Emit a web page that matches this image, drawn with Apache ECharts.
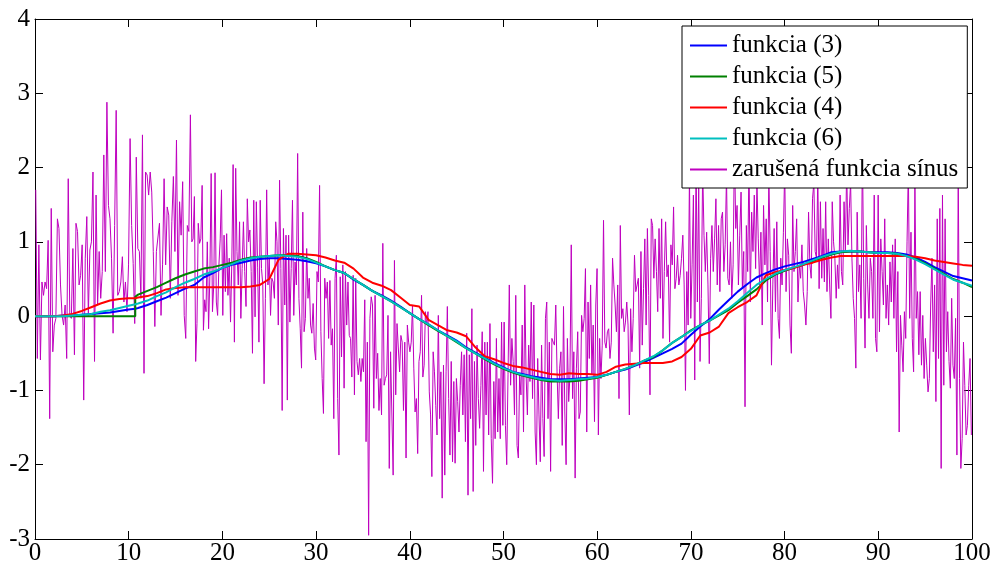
<!DOCTYPE html>
<html>
<head>
<meta charset="utf-8">
<script src="https://cdn.jsdelivr.net/npm/echarts@6/dist/echarts.min.js"></script>
<style>
html,body{margin:0;padding:0;background:#fff;}
#chart{width:994px;height:568px;}
</style>
</head>
<body>
<div id="chart"></div>
<script>
// ---- data ----
const seriesNames = ['funkcia (3)', 'funkcia (5)', 'funkcia (4)', 'funkcia (6)', 'zarušená funkcia sínus'];
const xTicks = [0,10,20,30,40,50,60,70,80,90,100];
const yTicks = [-3,-2,-1,0,1,2,3,4];

const smoothX = [0,1,2,3,4,5,6,7,8,9,10,10.7,10.7,
  11,12,13,14,15,16,17,18,19,20,21,22,23,24,25,26,27,28,29,30,
  31,32,33,34,35,36,37,38,39,40,41,42,43,44,45,46,47,48,49,50,
  51,52,53,54,55,56,57,58,59,60,61,62,63,64,65,66,67,68,69,70,
  71,72,73,74,75,76,77,78,79,80,81,82,83,84,85,86,87,88,89,90,
  91,92,93,94,95,96,97,98,99,100];

const f3 = [0,0,0,0.01,0.01,0.02,0.03,0.04,0.05,0.07,0.09, 0.10,0.10,
  0.11,0.15,0.20,0.25,0.31,0.37,0.42,0.52,0.58,0.65,
  0.69,0.72,0.75,0.77,0.78,0.78,0.77,0.76,0.74,0.71,
  0.67,0.62,0.58,0.49,0.42,0.34,0.28,0.21,0.13,0.04,
  -0.04,-0.11,-0.19,-0.26,-0.33,-0.42,-0.49,-0.56,-0.63,-0.69,
  -0.75,-0.78,-0.81,-0.83,-0.85,-0.85,-0.85,-0.84,-0.83,-0.82,
  -0.79,-0.75,-0.72,-0.67,-0.62,-0.56,-0.50,-0.44,-0.37,-0.25,
  -0.14,-0.04,0.09,0.21,0.33,0.43,0.52,0.58,0.63,0.67,
  0.70,0.73,0.77,0.81,0.86,0.87,0.87,0.87,0.86,0.86,
  0.86,0.85,0.83,0.79,0.73,0.66,0.60,0.54,0.51,0.48];

const f5 = [0,0,0,0,0,0,0,0,0,0,0, 0,0.26,
  0.29,0.34,0.39,0.45,0.51,0.56,0.60,0.64,0.66,0.69,
  0.72,0.76,0.79,0.80,0.81,0.82,0.82,0.81,0.78,0.73,
  0.67,0.62,0.58,0.50,0.42,0.34,0.27,0.20,0.12,0.04,
  -0.04,-0.12,-0.20,-0.27,-0.35,-0.43,-0.50,-0.58,-0.65,-0.71,
  -0.76,-0.80,-0.83,-0.86,-0.88,-0.88,-0.88,-0.87,-0.85,-0.83,
  -0.79,-0.75,-0.71,-0.66,-0.60,-0.55,-0.46,-0.36,-0.28,-0.19,
  -0.12,-0.06,0.01,0.08,0.18,0.27,0.36,0.48,0.56,0.61,
  0.65,0.69,0.74,0.79,0.83,0.86,0.87,0.87,0.86,0.85,
  0.85,0.84,0.81,0.77,0.71,0.64,0.57,0.50,0.45,0.39];

const f4 = [0,0,0,0.01,0.03,0.07,0.12,0.17,0.21,0.23,0.24, 0.24,0.24,
  0.25,0.27,0.31,0.36,0.38,0.39,0.39,0.39,0.39,0.39,
  0.39,0.39,0.40,0.42,0.50,0.76,0.84,0.84,0.83,0.82,
  0.79,0.75,0.72,0.64,0.52,0.45,0.41,0.35,0.25,0.15,
  0.13,-0.05,-0.12,-0.19,-0.22,-0.27,-0.42,-0.54,-0.58,-0.63,
  -0.67,-0.69,-0.72,-0.75,-0.78,-0.79,-0.77,-0.78,-0.78,-0.79,
  -0.75,-0.68,-0.65,-0.64,-0.63,-0.63,-0.63,-0.61,-0.55,-0.44,
  -0.26,-0.22,-0.14,0.04,0.12,0.19,0.28,0.55,0.59,0.62,
  0.65,0.69,0.72,0.76,0.79,0.81,0.81,0.81,0.81,0.81,
  0.81,0.81,0.81,0.80,0.78,0.75,0.73,0.71,0.69,0.68];

const f6 = [0,0,0,0,0.01,0.02,0.03,0.06,0.08,0.11,0.14, 0.16,0.16,
  0.17,0.21,0.27,0.32,0.39,0.45,0.50,0.56,0.60,0.65,
  0.70,0.75,0.78,0.80,0.81,0.82,0.81,0.80,0.77,0.72,
  0.67,0.62,0.58,0.50,0.42,0.34,0.27,0.20,0.12,0.04,
  -0.04,-0.11,-0.19,-0.27,-0.34,-0.43,-0.50,-0.57,-0.64,-0.70,
  -0.75,-0.79,-0.82,-0.85,-0.86,-0.87,-0.86,-0.85,-0.84,-0.82,
  -0.79,-0.75,-0.71,-0.66,-0.60,-0.54,-0.46,-0.36,-0.28,-0.20,
  -0.12,-0.06,0.02,0.10,0.20,0.31,0.42,0.50,0.57,0.62,
  0.66,0.70,0.75,0.80,0.84,0.87,0.88,0.87,0.86,0.85,
  0.85,0.84,0.81,0.76,0.70,0.63,0.56,0.49,0.45,0.41];

// noisy sine, read in six consecutive x-ranges of equal width (0-16.7, 16.7-33.3, ...)
const noiseA = [1.70,-0.57,0.96,-0.59,0.46,0.28,0.46,0.37,1.02,-1.38,1.45,-0.48,-0.12,-0.03,1.31,1.18,0.42,0.01,-0.12,0.15,
  -0.57,1.85,0.01,-0.03,0.91,-0.52,1.25,1.14,0.42,0.55,0.96,-1.13,0.78,1.34,0.01,0.89,1.00,1.94,-0.61,1.63,
  0.15,0.87,0.24,0.60,2.17,0.60,2.88,1.49,1.31,0.78,-0.23,1.22,2.77,0.28,0.33,0.46,0.80,0.19,0.46,0.06,
  0.69,2.39,1.22,0.71,-0.10,2.14,0.91,0.87,0.24,2.44,-0.77,1.94,1.90,1.63,1.94,1.67,0.87,-0.14,0.87,0.89,
  1.25,0.01,0.69,1.85,0.69,1.47,1.36,0.24,1.27,1.88,0.87,2.37,0.28,1.54,1.09,1.81,0.01,-0.30,1.22,1.14,2.71];
const noiseB = [1.00,1.04,1.61,-0.61,-0.10,1.25,0.98,1.04,1.76,-0.19,0.22,0.06,1.00,-0.17,0.55,1.92,0.06,0.42,1.93,0.19,
  0.01,0.69,1.04,1.70,0.01,1.09,0.33,1.11,0.28,0.78,-0.08,0.73,2.04,-0.35,1.99,0.87,0.42,1.27,-0.03,0.64,
  1.27,0.60,0.13,1.58,1.00,1.16,0.60,-0.50,1.56,-0.01,1.54,0.66,-0.35,1.56,0.64,0.42,-0.91,0.24,1.70,0.42,
  0.78,0.01,0.51,0.46,0.24,1.27,1.00,-0.12,1.83,0.64,-1.27,1.18,0.15,1.09,-1.13,1.09,-0.08,0.64,1.56,0.01,
  0.73,0.42,2.19,0.24,-0.17,-0.70,1.40,-0.21,-0.03,0.91,0.24,0.51,-0.12,-0.23,0.17,-0.43,-0.59,0.60,0.46,1.76,
  -0.21,-0.84,-1.31,0.51,0.24,0.46,-0.30,0.48,-0.39,-0.17,-1.38,0.51,0.82,-1.11,-1.87,0.53,-0.55,0.69,-0.97,0.60,-0.12];
const noiseC = [0.46,-0.26,-0.30,-0.82,0.55,-1.06,0.51,-0.61,-0.79,-0.57,-0.88,-0.57,-0.75,0.22,-1.69,-0.35,-2.95,-0.03,0.26,0.15,
  -1.24,0.28,-0.84,-0.50,-1.27,-0.84,-1.33,0.98,-0.93,-0.84,-0.79,0.01,-2.05,-0.48,-0.46,-2.14,0.75,-1.06,-0.10,-0.12,
  -0.75,-0.26,-0.35,-1.27,-0.35,-1.91,-0.12,-0.35,-0.48,-0.35,0.15,-0.70,-1.29,-1.11,-1.85,-0.61,-0.48,0.28,-0.82,-0.66,
  0.06,-0.12,0.06,-1.02,-1.33,-2.16,-0.48,-0.75,-1.20,-1.60,0.01,-1.38,-0.75,-2.45,-0.66,-2.14,-0.75,0.13,-1.11,-1.87,
  -0.61,-1.96,-0.88,-1.98,-0.84,-1.15,-1.56,-0.93,-0.48,-1.33,-0.52,-1.69,-0.23,-2.41,-0.52,-1.38,0.10,-2.36,-0.61,-1.74,
  -0.39,-1.11,-1.51,-0.93,-0.21,-2.09,-0.35,-1.33,-0.35,-1.60,-0.10,-1.65,-2.25,-0.88,-1.65,-0.30,-1.56,-0.84,-1.65,-0.08,-1.47];
const noiseD = [-0.08,-1.47,-2.00,-0.79,0.42,-0.93,-0.30,-0.61,-1.33,0.28,-1.74,-1.91,-0.79,-1.06,-0.12,-1.56,0.42,-0.79,-1.33,-0.39,
  -0.88,0.19,-1.11,0.15,-1.56,-2.00,-0.57,-1.33,-1.96,-0.39,-1.38,-1.89,-0.03,0.19,-1.38,-0.35,-2.09,-0.30,-0.35,-0.39,
  0.15,-0.75,-1.38,-0.70,-0.48,-1.74,0.13,-1.29,-2.00,-0.30,-1.15,-0.79,0.96,-1.11,-0.48,-2.18,-0.70,-0.21,-1.38,-1.29,
  0.01,-0.21,-0.03,0.64,-1.56,0.19,-0.57,0.42,-0.79,-0.12,-1.42,0.15,0.64,-1.60,-0.30,-0.84,-0.39,1.29,-0.35,-0.43,
  -0.21,-0.17,-0.57,-0.35,0.78,0.42,0.15,-0.21,0.42,-1.11,1.22,-0.03,0.10,-0.21,-0.08,0.19,-0.12,-1.33,0.10,-0.48,
  -0.03,0.82,0.33,0.42,0.51,-0.70,0.87,-0.39,0.37,1.04,-0.12,1.18,0.28,-1.06,1.31,1.22,0.51,1.04,0.60,0.06,1.18];
const noiseE = [0.24,1.31,-0.30,0.60,1.27,0.53,0.69,-0.35,0.96,0.69,1.47,0.37,0.51,0.82,0.42,0.55,0.78,1.09,0.42,-1.00,
  0.60,-0.12,1.90,-0.03,0.69,1.63,-0.86,2.20,0.19,1.80,-0.61,0.24,2.00,1.09,0.60,1.13,0.42,-0.64,0.78,1.22,
  0.60,1.04,1.58,0.42,1.22,0.33,1.31,1.40,0.60,0.96,1.90,0.51,0.42,1.00,0.24,0.69,2.30,1.18,1.49,0.42,
  1.09,1.67,0.37,0.87,-1.22,1.22,0.60,2.10,0.19,1.40,0.87,1.63,0.64,1.80,1.04,0.42,1.13,-0.12,1.49,0.69,
  1.31,0.19,1.90,0.87,-0.66,0.42,1.18,0.06,1.27,-0.03,-0.30,0.78,0.42,1.13,2.00,0.33,1.04,0.82,-0.12,-0.50,
  1.49,0.60,0.87,1.31,0.19,0.69,0.51,0.96,0.33,0.15,-0.12,0.33,1.40,0.69,0.51,1.58,1.80,0.87];
const noiseF = [0.78,1.90,0.37,1.54,0.51,1.18,0.46,1.54,0.33,1.04,0.42,-0.03,1.54,1.00,0.78,0.24,0.69,0.37,1.63,0.60,
  0.42,1.54,0.87,2.00,0.96,1.45,1.80,0.78,0.24,-0.03,-0.70,1.40,0.33,0.69,-0.03,2.30,0.51,-0.43,1.22,0.42,
  -0.03,0.78,0.60,-0.03,1.63,-0.30,-0.48,1.63,-0.21,1.04,0.60,0.15,1.31,-0.03,0.42,-0.12,0.73,0.19,0.96,-0.03,
  1.04,-0.48,0.60,-1.56,0.01,-0.39,-0.75,0.06,-0.30,1.00,2.00,-0.03,1.13,-0.30,-0.75,1.80,-0.03,0.33,-0.52,0.33,
  -0.66,0.01,-0.84,-0.30,-0.66,-1.02,-0.84,0.15,0.78,-0.48,0.42,-1.15,1.31,-0.57,1.45,-2.05,1.63,-0.93,1.31,-0.48,
  0.06,-0.61,-0.97,0.24,-0.66,-0.84,-0.03,-1.87,2.00,-0.84,-2.05,-1.65,-0.35,-0.93,-1.60,-1.47,-0.93,-0.57,-1.60];

// ---- build ----
const FONT = 'Liberation Serif';
const pair = arr => smoothX.map((x, i) => [x, arr[i]]);
const segs = [noiseA, noiseB, noiseC, noiseD, noiseE, noiseF];
const segW = 100 / segs.length;
const noiseData = [];
segs.forEach((seg, s) => seg.forEach((v, i) => noiseData.push([s * segW + (i + 0.5) * segW / seg.length, v])));

const axisCommon = {
  type: 'value',
  axisLine: { show: true, onZero: false, lineStyle: { color: '#000', width: 1 } },
  axisTick: { show: true, inside: true, length: 8, lineStyle: { color: '#000', width: 1 } },
  splitLine: { show: false },
};

const chart = echarts.init(document.getElementById('chart'), null, { renderer: 'canvas' });
chart.setOption({
  animation: false,
  backgroundColor: '#fff',
  grid: { left: 35, right: 22, top: 19, bottom: 29, containLabel: false },
  xAxis: [
    Object.assign({}, axisCommon, { position: 'bottom', min: xTicks[0], max: xTicks[xTicks.length - 1], interval: 10,
      axisLabel: { color: '#000', fontSize: 25, fontFamily: FONT, margin: 2 } }),
    Object.assign({}, axisCommon, { position: 'top', min: xTicks[0], max: xTicks[xTicks.length - 1], interval: 10,
      axisLabel: { show: false } })
  ],
  yAxis: [
    Object.assign({}, axisCommon, { position: 'left', min: yTicks[0], max: yTicks[yTicks.length - 1], interval: 1,
      axisLabel: { color: '#000', fontSize: 25, fontFamily: FONT, margin: 5 } }),
    Object.assign({}, axisCommon, { position: 'right', min: yTicks[0], max: yTicks[yTicks.length - 1], interval: 1,
      axisLabel: { show: false } })
  ],
  legend: {
    orient: 'vertical', left: 682, top: 26,
    padding: [7, 9, 6, 8], itemGap: 6, itemWidth: 37, itemHeight: 2,
    icon: 'rect',
    backgroundColor: '#fff', borderColor: '#000', borderWidth: 1, borderRadius: 0,
    textStyle: { fontFamily: FONT, fontSize: 25, lineHeight: 25, color: '#000' },
    data: seriesNames, selectedMode: false
  },
  series: [
    { name: seriesNames[4], type: 'line', data: noiseData, showSymbol: false, symbol: 'none', z: 2,
      lineStyle: { color: '#BF00BF', width: 1 }, itemStyle: { color: '#BF00BF' } },
    { name: seriesNames[0], type: 'line', data: pair(f3), showSymbol: false, symbol: 'none', z: 3,
      lineStyle: { color: '#0000FF', width: 2 }, itemStyle: { color: '#0000FF' } },
    { name: seriesNames[1], type: 'line', data: pair(f5), showSymbol: false, symbol: 'none', z: 3,
      lineStyle: { color: '#008000', width: 2 }, itemStyle: { color: '#008000' } },
    { name: seriesNames[2], type: 'line', data: pair(f4), showSymbol: false, symbol: 'none', z: 3,
      lineStyle: { color: '#FF0000', width: 2 }, itemStyle: { color: '#FF0000' } },
    { name: seriesNames[3], type: 'line', data: pair(f6), showSymbol: false, symbol: 'none', z: 3,
      lineStyle: { color: '#00BFBF', width: 2 }, itemStyle: { color: '#00BFBF' } }
  ]
});
</script>
</body>
</html>
